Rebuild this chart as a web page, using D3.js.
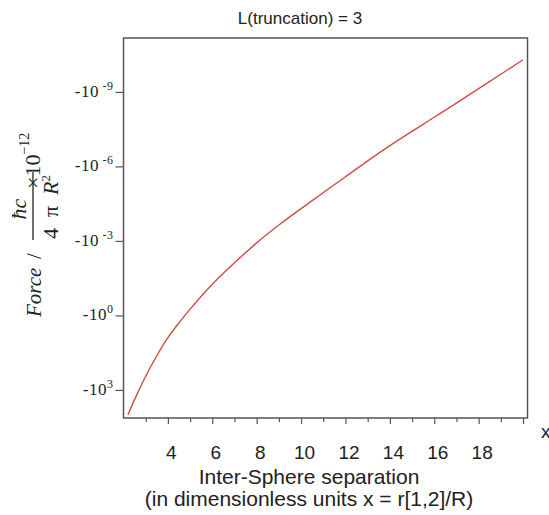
<!DOCTYPE html>
<html>
<head>
<meta charset="utf-8">
<script src="https://cdn.jsdelivr.net/npm/d3@7"></script>
<style>
    body { margin: 0; background: #fff; }
    svg { display: block; }
</style>
</head>
<body>
<div id="chart"></div>
<script>
// separation x = r[1,2]/R
const separation = [2.2, 2.5, 3, 3.5, 4, 4.5, 5, 6, 7, 8, 9, 10, 12, 14, 16, 18, 20];
// force in units of hbar c / (4 pi R^2) x 10^-12
const force = [-1.0e4, -2.4e3, -2.8e2, -42, -7.9, -2.0, -0.56, -5.6e-2, -7.6e-3, -1.2e-3,
    -2.3e-4, -5.0e-5, -2.6e-6, -1.45e-7, -1.05e-8, -7.4e-10, -5.1e-11];

const x_ticks = [4, 6, 8, 10, 12, 14, 16, 18, 20];
const x_tick_labels = ['4', '6', '8', '10', '12', '14', '16', '18', ''];
const x_minor_ticks = [3, 5, 7, 9, 11, 13, 15, 17, 19];
const y_ticks = [-1e-9, -1e-6, -1e-3, -1, -1e3];
const y_tick_exponents = [' -9', ' -6', ' -3', '0', '3'];

const chart_width = 549;
const chart_height = 515;
const plot = { left: 123.5, right: 527.5, top: 38, bottom: 418 };
const axis_color = '#555';
const text_color = '#222';
const sans = '"Liberation Sans", Arial, sans-serif';
const serif = '"Liberation Serif", "Times New Roman", serif';

const svg = d3.select('#chart')
    .append('svg')
    .attr('width', chart_width)
    .attr('height', chart_height);

// Scales
const x_scale = d3.scaleLinear()
    .domain([2, 20.2])
    .range([plot.left, plot.right]);

const y_scale = d3.scaleLog()
    .domain([-Math.pow(10, -11.17), -Math.pow(10, 4.13)])
    .range([plot.top, plot.bottom]);

// Axes
const x_axis = d3.axisBottom(x_scale)
    .tickValues(x_ticks)
    .tickSize(6)
    .tickFormat((d, i) => x_tick_labels[i]);
const gx = svg.append('g')
    .attr('transform', `translate(0, ${plot.bottom})`)
    .call(x_axis);
gx.select('.domain').remove();
gx.selectAll('line').attr('stroke', axis_color).attr('stroke-width', 1.2);
gx.selectAll('text')
    .attr('y', 28)
    .attr('dx', 3)
    .attr('fill', text_color)
    .style('font-family', sans)
    .style('font-size', '19px');

const x_minor = d3.axisBottom(x_scale)
    .tickValues(x_minor_ticks)
    .tickSize(4)
    .tickFormat('');
const gxm = svg.append('g')
    .attr('transform', `translate(0, ${plot.bottom})`)
    .call(x_minor);
gxm.select('.domain').remove();
gxm.selectAll('line').attr('stroke', axis_color).attr('stroke-width', 1.2);

const y_axis = d3.axisLeft(y_scale)
    .tickValues(y_ticks)
    .tickSize(8)
    .tickFormat('');
const gy = svg.append('g')
    .attr('transform', `translate(${plot.left}, 0)`)
    .call(y_axis);
gy.select('.domain').remove();
gy.selectAll('line').attr('stroke', axis_color).attr('stroke-width', 1.2);

// y tick labels: -10 with superscript exponent
const y_labels = svg.append('g')
    .selectAll('text')
    .data(y_ticks)
    .enter()
    .append('text')
    .attr('x', plot.left - 10)
    .attr('y', d => y_scale(d) + 5)
    .attr('text-anchor', 'end')
    .attr('fill', text_color)
    .style('font-family', serif)
    .style('font-size', '17px')
    .style('letter-spacing', '0.5px');
y_labels.append('tspan').text('-10');
y_labels.append('tspan')
    .attr('dy', -7)
    .style('font-size', '12px')
    .style('white-space', 'pre')
    .text((d, i) => y_tick_exponents[i]);

// Frame
svg.append('rect')
    .attr('x', plot.left)
    .attr('y', plot.top)
    .attr('width', plot.right - plot.left)
    .attr('height', plot.bottom - plot.top)
    .attr('fill', 'none')
    .attr('stroke', axis_color)
    .attr('stroke-width', 1.5);

// Curve
const line = d3.line()
    .x(d => x_scale(d[0]))
    .y(d => y_scale(d[1]))
    .curve(d3.curveNatural);

svg.append('path')
    .datum(d3.zip(separation, force))
    .attr('d', line)
    .attr('fill', 'none')
    .attr('stroke', '#cf4d43')
    .attr('stroke-width', 1.4);

// Title
svg.append('text')
    .text('L(truncation) = 3')
    .attr('x', 300)
    .attr('y', 24)
    .attr('text-anchor', 'middle')
    .attr('fill', text_color)
    .style('font-family', sans)
    .style('font-size', '17px');

// x axis title
svg.append('text')
    .text('Inter-Sphere separation')
    .attr('x', 309)
    .attr('y', 484)
    .attr('text-anchor', 'middle')
    .attr('fill', text_color)
    .style('font-family', sans)
    .style('font-size', '21px');
svg.append('text')
    .text('(in dimensionless units x = r[1,2]/R)')
    .attr('x', 309)
    .attr('y', 506)
    .attr('text-anchor', 'middle')
    .attr('fill', text_color)
    .style('font-family', sans)
    .style('font-size', '21px');
svg.append('text')
    .text('x')
    .attr('x', 541)
    .attr('y', 438)
    .attr('fill', text_color)
    .style('font-family', sans)
    .style('font-size', '19px');

// y axis title (rotated), local x = -screen y, local y = screen x
const yt = svg.append('g')
    .attr('transform', 'rotate(-90)')
    .attr('fill', text_color)
    .style('font-family', serif);
yt.append('text')
    .text('Force')
    .attr('x', -317)
    .attr('y', 41)
    .style('font-style', 'italic')
    .style('font-size', '21px');
yt.append('text')
    .text('/')
    .attr('x', -259)
    .attr('y', 41)
    .style('font-size', '21px');
yt.append('text')
    .text('\u0127c')
    .attr('x', -209)
    .attr('y', 26)
    .attr('text-anchor', 'middle')
    .style('font-style', 'italic')
    .style('font-size', '22px');
const denom = yt.append('text')
    .attr('x', -207)
    .attr('y', 58)
    .attr('text-anchor', 'middle')
    .style('font-size', '22px');
denom.append('tspan').text('4\u2002\u03c0\u2002');
denom.append('tspan').text('R').style('font-style', 'italic');
denom.append('tspan').text('2').attr('dy', -8).style('font-size', '13px');
yt.append('line')
    .attr('x1', -240)
    .attr('x2', -172)
    .attr('y1', 33)
    .attr('y2', 33)
    .attr('stroke', text_color)
    .attr('stroke-width', 1.3);
const times = yt.append('text')
    .attr('x', -189)
    .attr('y', 40)
    .style('font-size', '22px');
times.append('tspan').text('\u00d710');
times.append('tspan')
    .text('\u221212')
    .attr('dy', -11)
    .style('font-size', '14px');
</script>
</body>
</html>
